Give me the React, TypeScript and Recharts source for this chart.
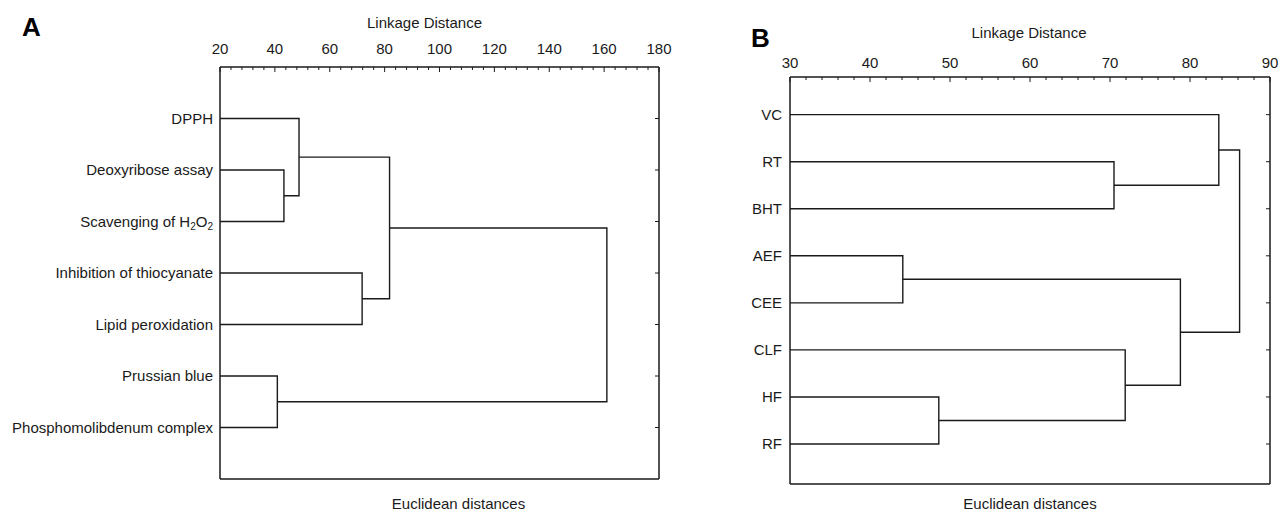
import React from 'react';
import { ComposedChart, Scatter, XAxis, YAxis } from 'recharts';

const FONT = '"Liberation Sans", Arial, Helvetica, sans-serif';
const INK = '#1a1a1a';

// Panel A: antioxidant assays. Leaves are 0..6, every join creates the next cluster index.
const assaysA = [
  'DPPH',
  'Deoxyribose assay',
  'Scavenging of H2O2',
  'Inhibition of thiocyanate',
  'Lipid peroxidation',
  'Prussian blue',
  'Phosphomolibdenum complex',
];
const joinsA: [number, number][] = [[1, 2], [0, 7], [3, 4], [8, 9], [5, 6], [10, 11]];
const heightsA = [43.3, 48.8, 71.8, 81.8, 40.9, 161.0];
const distTicksA = [20, 40, 60, 80, 100, 120, 140, 160, 180];

// Panel B: extracts and reference compounds
const samplesB = ['VC', 'RT', 'BHT', 'AEF', 'CEE', 'CLF', 'HF', 'RF'];
const joinsB: [number, number][] = [[1, 2], [0, 8], [3, 4], [6, 7], [5, 11], [10, 12], [9, 13]];
const heightsB = [70.5, 83.6, 44.1, 48.6, 71.9, 78.8, 86.2];
const distTicksB = [30, 40, 50, 60, 70, 80, 90];

type Pt = { x: number; y: number };

// each join becomes a bracket: child A -> height -> child B
function buildLinks(n: number, joins: [number, number][], heights: number[], base: number) {
  const nodes: Pt[] = Array.from({ length: n }, (_, i) => ({ x: base, y: i + 1 }));
  return joins.map(([a, b], k) => {
    const p = nodes[a];
    const q = nodes[b];
    const h = heights[k];
    nodes.push({ x: h, y: (p.y + q.y) / 2 });
    return [
      { x: p.x, y: p.y },
      { x: h, y: p.y },
      { x: h, y: q.y },
      { x: q.x, y: q.y },
    ];
  });
}

// majors plus four minor ticks between each pair
function withMinors(majors: number[]) {
  const out: number[] = [];
  majors.forEach((m, i) => {
    out.push(m);
    if (i < majors.length - 1) {
      const step = (majors[i + 1] - m) / 5;
      for (let j = 1; j < 5; j++) out.push(m + step * j);
    }
  });
  return out;
}

const LeafLabel = ({ x, y, text, gap }: any) => {
  const parts = String(text).split(/(\d)/);
  return (
    <text x={x - gap} y={y + 5} textAnchor="end" fontSize={15} fill={INK} fontFamily={FONT}>
      {parts.map((s, i) =>
        i % 2 === 1 ? (
          <tspan key={i} fontSize={10} dy={3}>{s}</tspan>
        ) : (
          <tspan key={i} dy={i > 0 ? -3 : 0}>{s}</tspan>
        )
      )}
    </text>
  );
};

interface DendroProps {
  leaves: string[];
  joins: [number, number][];
  heights: number[];
  majors: number[];
  yDomain: [number, number];
  width: number;
  height: number;
  leftW: number;
  rightW: number;
  topH: number;
  bottomH: number;
  labelGap: number;
  tickGap: number;
  titleTop: number;
  titleDx: number;
  footTop: number;
  footDx: number;
}

const Dendrogram: React.FC<DendroProps> = (p) => {
  const lo = p.majors[0];
  const hi = p.majors[p.majors.length - 1];
  const links = buildLinks(p.leaves.length, p.joins, p.heights, lo);
  const ticks = withMinors(p.majors);
  const rows = p.leaves.map((_, i) => i + 1);
  const axisLine = { stroke: INK, strokeWidth: 1.5 };

  return (
    <ComposedChart width={p.width} height={p.height} margin={{ top: 0, right: 0, bottom: 0, left: 0 }}>
      <XAxis
        xAxisId="top"
        orientation="top"
        type="number"
        dataKey="x"
        domain={[lo, hi]}
        allowDataOverflow
        ticks={ticks}
        interval={0}
        height={p.topH}
        tickSize={0}
        tickMargin={0}
        axisLine={axisLine}
        tick={(t: any) => {
          const major = p.majors.includes(t.payload.value);
          return (
            <g>
              <line x1={t.x} x2={t.x} y1={t.y} y2={t.y + (major ? 5 : 3)} stroke={INK} />
              {major && (
                <text x={t.x} y={t.y - p.tickGap} textAnchor="middle" fontSize={15} fill={INK} fontFamily={FONT}>
                  {t.payload.value}
                </text>
              )}
            </g>
          );
        }}
        label={{
          value: 'Linkage Distance',
          position: 'insideTop',
          offset: p.titleTop,
          dx: p.titleDx,
          fontSize: 15,
          fill: INK,
          fontFamily: FONT,
        }}
      />
      <XAxis
        xAxisId="bottom"
        orientation="bottom"
        type="number"
        domain={[lo, hi]}
        allowDataOverflow
        ticks={ticks}
        interval={0}
        height={p.bottomH}
        tickSize={0}
        tickMargin={0}
        axisLine={axisLine}
        tick={(t: any) => {
          const major = p.majors.includes(t.payload.value);
          return <line x1={t.x} x2={t.x} y1={t.y} y2={t.y - (major ? 5 : 3)} stroke={INK} />;
        }}
        label={{
          value: 'Euclidean distances',
          position: 'insideTop',
          offset: p.footTop,
          dx: p.footDx,
          fontSize: 15,
          fill: INK,
          fontFamily: FONT,
        }}
      />
      <YAxis
        yAxisId="left"
        type="number"
        dataKey="y"
        reversed
        domain={p.yDomain}
        allowDataOverflow
        ticks={rows}
        interval={0}
        width={p.leftW}
        tickSize={0}
        tickMargin={0}
        axisLine={axisLine}
        tick={(t: any) => <LeafLabel x={t.x} y={t.y} gap={p.labelGap} text={p.leaves[t.payload.value - 1]} />}
      />
      <YAxis
        yAxisId="right"
        orientation="right"
        type="number"
        reversed
        domain={p.yDomain}
        allowDataOverflow
        ticks={rows}
        interval={0}
        width={p.rightW}
        tickSize={0}
        tickMargin={0}
        axisLine={axisLine}
        tick={(t: any) => <line x1={t.x} x2={t.x - 4} y1={t.y} y2={t.y} stroke={INK} />}
      />
      {links.map((pts, i) => (
        <Scatter
          key={i}
          xAxisId="top"
          yAxisId="left"
          data={pts}
          line={{ stroke: INK, strokeWidth: 1.4 }}
          shape={() => <g />}
          legendType="none"
          isAnimationActive={false}
        />
      ))}
    </ComposedChart>
  );
};

const panelLetter: React.CSSProperties = {
  position: 'absolute',
  fontFamily: FONT,
  fontWeight: 'bold',
  fontSize: 26,
  lineHeight: '26px',
  color: '#000',
};

export default function App() {
  return (
    <div style={{ position: 'fixed', left: 0, top: 0, width: 1283, height: 512, background: '#fff' }}>
      <div style={{ ...panelLetter, left: 22, top: 14 }}>A</div>
      <div style={{ ...panelLetter, left: 751, top: 25 }}>B</div>
      <div style={{ position: 'absolute', left: 0, top: 0 }}>
        <Dendrogram
          leaves={assaysA}
          joins={joinsA}
          heights={heightsA}
          majors={distTicksA}
          yDomain={[0, 8]}
          width={680}
          height={512}
          leftW={220}
          rightW={21}
          topH={67}
          bottomH={33}
          labelGap={7}
          tickGap={13}
          titleTop={17}
          titleDx={-15}
          footTop={19}
          footDx={19}
        />
      </div>
      <div style={{ position: 'absolute', left: 700, top: 0 }}>
        <Dendrogram
          leaves={samplesB}
          joins={joinsB}
          heights={heightsB}
          majors={distTicksB}
          yDomain={[0.2, 8.85]}
          width={583}
          height={512}
          leftW={90}
          rightW={13}
          topH={77}
          bottomH={28}
          labelGap={8}
          tickGap={9}
          titleTop={27}
          titleDx={-1}
          footTop={14}
          footDx={0}
        />
      </div>
    </div>
  );
}
